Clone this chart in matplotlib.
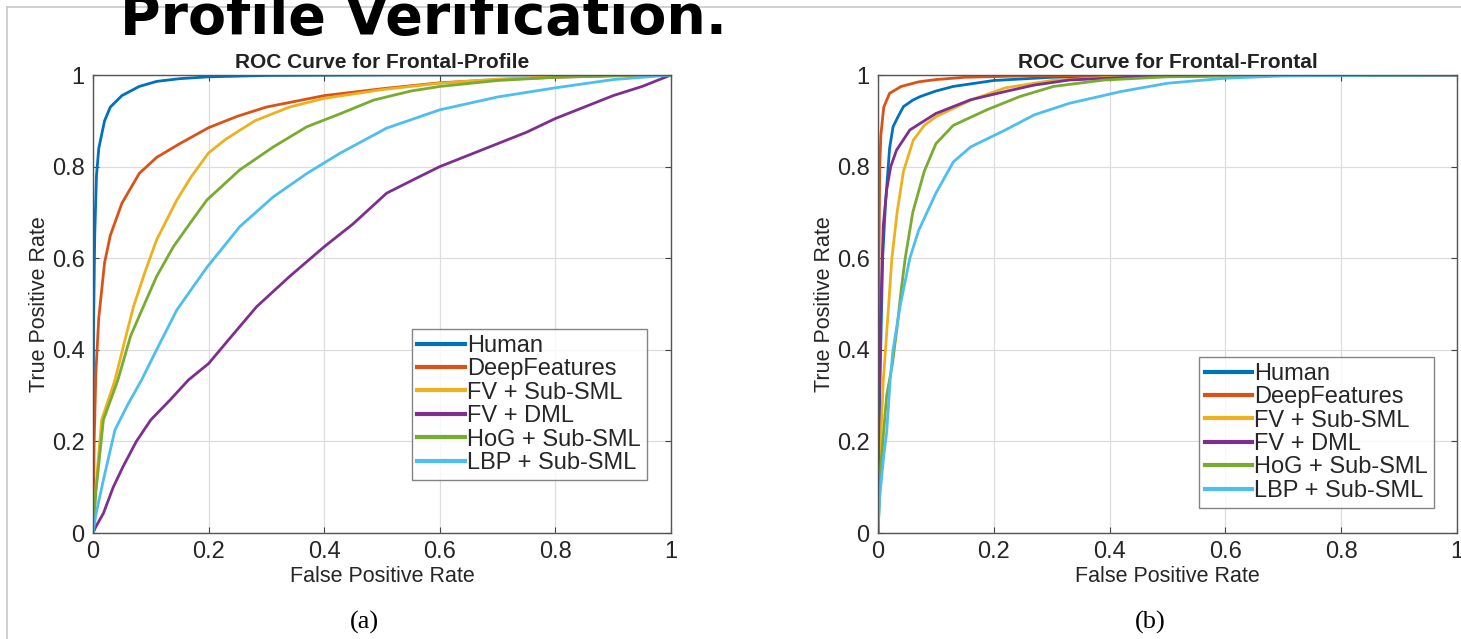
import matplotlib
matplotlib.use("Agg")
import matplotlib.pyplot as plt
from matplotlib.lines import Line2D

# ---- data ----
labels = ["Human", "DeepFeatures", "FV + Sub-SML", "FV + DML",
          "HoG + Sub-SML", "LBP + Sub-SML"]
colors = ["#0072BD", "#D95319", "#EDB120", "#7E2F8E", "#77AC30", "#4DBEEE"]

# (a) Frontal-Profile
fp_human_x = [0, 0.001, 0.003, 0.006, 0.01, 0.02, 0.03, 0.05, 0.08, 0.11, 0.15, 0.2, 0.3, 0.5, 1]
fp_human_y = [0, 0.45, 0.65, 0.78, 0.84, 0.9, 0.93, 0.955, 0.975, 0.986, 0.992, 0.996, 0.999, 1, 1]
fp_deep_x = [0, 0.002, 0.005, 0.01, 0.02, 0.03, 0.05, 0.08, 0.11, 0.15, 0.2, 0.25, 0.3, 0.4, 0.5, 0.6, 0.7, 0.8, 0.9, 1]
fp_deep_y = [0, 0.2, 0.35, 0.47, 0.59, 0.65, 0.72, 0.785, 0.82, 0.85, 0.885, 0.91, 0.93, 0.955, 0.97, 0.983, 0.99, 0.995, 0.998, 1]
fp_fvsub_x = [0, 0.005, 0.015, 0.038, 0.055, 0.07, 0.09, 0.11, 0.145, 0.17, 0.2, 0.23, 0.28, 0.34, 0.4, 0.5, 0.6, 0.7, 0.8, 0.9, 1]
fp_fvsub_y = [0, 0.1, 0.247, 0.334, 0.42, 0.494, 0.57, 0.64, 0.727, 0.778, 0.83, 0.86, 0.9, 0.93, 0.949, 0.968, 0.982, 0.991, 0.996, 0.999, 1]
fp_dml_x = [0, 0.005, 0.018, 0.035, 0.052, 0.075, 0.1, 0.133, 0.165, 0.2, 0.24, 0.283, 0.34, 0.4, 0.45, 0.508, 0.56, 0.6, 0.65, 0.7, 0.75, 0.8, 0.85, 0.9, 0.95, 1]
fp_dml_y = [0, 0.014, 0.043, 0.1, 0.145, 0.2, 0.247, 0.29, 0.334, 0.37, 0.43, 0.494, 0.56, 0.625, 0.675, 0.742, 0.775, 0.8, 0.825, 0.85, 0.875, 0.905, 0.93, 0.955, 0.975, 1]
fp_hog_x = [0, 0.005, 0.018, 0.043, 0.065, 0.087, 0.11, 0.139, 0.17, 0.197, 0.254, 0.312, 0.37, 0.427, 0.485, 0.55, 0.6, 0.7, 0.8, 0.9, 1]
fp_hog_y = [0, 0.09, 0.247, 0.334, 0.43, 0.494, 0.56, 0.625, 0.68, 0.727, 0.793, 0.843, 0.887, 0.915, 0.945, 0.965, 0.975, 0.988, 0.995, 0.999, 1]
fp_lbp_x = [0, 0.005, 0.018, 0.038, 0.06, 0.084, 0.11, 0.145, 0.197, 0.254, 0.312, 0.37, 0.427, 0.508, 0.6, 0.7, 0.8, 0.9, 1]
fp_lbp_y = [0, 0.04, 0.116, 0.225, 0.28, 0.334, 0.4, 0.487, 0.58, 0.669, 0.734, 0.785, 0.829, 0.884, 0.924, 0.952, 0.972, 0.99, 1]

# (b) Frontal-Frontal
ff_human_x = [0, 0.003, 0.008, 0.013, 0.02, 0.026, 0.035, 0.044, 0.06, 0.073, 0.1, 0.13, 0.2, 0.3, 0.5, 1]
ff_human_y = [0, 0.3, 0.6, 0.72, 0.84, 0.887, 0.91, 0.931, 0.945, 0.953, 0.965, 0.975, 0.988, 0.995, 0.999, 1]
ff_deep_x = [0, 0.001, 0.003, 0.005, 0.01, 0.02, 0.04, 0.07, 0.1, 0.15, 0.25, 0.5, 1]
ff_deep_y = [0, 0.5, 0.8, 0.87, 0.93, 0.96, 0.975, 0.985, 0.99, 0.995, 0.998, 1, 1]
ff_fvsub_x = [0, 0.003, 0.009, 0.018, 0.024, 0.033, 0.044, 0.061, 0.08, 0.1, 0.16, 0.22, 0.3, 0.4, 0.6, 1]
ff_fvsub_y = [0, 0.15, 0.33, 0.49, 0.6, 0.7, 0.79, 0.858, 0.89, 0.909, 0.945, 0.972, 0.988, 0.995, 0.999, 1]
ff_dml_x = [0, 0.001, 0.004, 0.009, 0.015, 0.022, 0.032, 0.055, 0.1, 0.16, 0.22, 0.27, 0.33, 0.45, 0.6, 1]
ff_dml_y = [0, 0.2, 0.45, 0.67, 0.75, 0.8, 0.836, 0.88, 0.916, 0.946, 0.964, 0.978, 0.989, 0.996, 0.999, 1]
ff_hog_x = [0, 0.005, 0.015, 0.025, 0.033, 0.04, 0.047, 0.06, 0.08, 0.1, 0.13, 0.188, 0.245, 0.303, 0.39, 0.5, 0.7, 1]
ff_hog_y = [0, 0.15, 0.3, 0.37, 0.45, 0.53, 0.6, 0.7, 0.79, 0.85, 0.89, 0.924, 0.953, 0.975, 0.989, 0.996, 0.999, 1]
ff_lbp_x = [0, 0.003, 0.01, 0.015, 0.021, 0.026, 0.038, 0.055, 0.07, 0.1, 0.13, 0.16, 0.22, 0.27, 0.33, 0.42, 0.5, 0.6, 0.7, 1]
ff_lbp_y = [0, 0.08, 0.17, 0.22, 0.334, 0.4, 0.494, 0.6, 0.66, 0.742, 0.81, 0.843, 0.88, 0.913, 0.938, 0.964, 0.982, 0.993, 0.998, 1]

panels = [
    ("ROC Curve for Frontal-Profile", "(a)",
     [(fp_human_x, fp_human_y), (fp_deep_x, fp_deep_y), (fp_fvsub_x, fp_fvsub_y),
      (fp_dml_x, fp_dml_y), (fp_hog_x, fp_hog_y), (fp_lbp_x, fp_lbp_y)]),
    ("ROC Curve for Frontal-Frontal", "(b)",
     [(ff_human_x, ff_human_y), (ff_deep_x, ff_deep_y), (ff_fvsub_x, ff_fvsub_y),
      (ff_dml_x, ff_dml_y), (ff_hog_x, ff_hog_y), (ff_lbp_x, ff_lbp_y)]),
]

ticks = [0, 0.2, 0.4, 0.6, 0.8, 1]
tick_labels = ["0", "0.2", "0.4", "0.6", "0.8", "1"]

W, H = 1461, 639
fig = plt.figure(figsize=(W / 100, H / 100), dpi=100)
plt.rcParams["font.family"] = ["Liberation Sans", "DejaVu Sans"]

ax_boxes = [(93, 671), (878, 1457)]
legend_anchor = [(0.958, 0.116), (0.960, 0.055)]
text_gray = "#262626"

for i, (title, cap, curves) in enumerate(panels):
    x0, x1 = ax_boxes[i]
    ax = fig.add_axes([x0 / W, (H - 533) / H, (x1 - x0) / W, 458 / H])
    for (xs, ys), c, lab in zip(curves, colors, labels):
        ax.plot(xs, ys, color=c, lw=2.0, label=lab)
    ax.set_xlim(0, 1)
    ax.set_ylim(0, 1)
    ax.set_xticks(ticks)
    ax.set_yticks(ticks)
    ax.set_xticklabels(tick_labels)
    ax.set_yticklabels(tick_labels)
    ax.tick_params(direction="in", length=4, width=0.8, top=True, right=True,
                   labelsize=17, colors="#444444", labelcolor=text_gray, pad=6)
    ax.grid(True, color="#dddddd", lw=0.9)
    ax.set_axisbelow(True)
    for s in ax.spines.values():
        s.set_color("#555555")
        s.set_linewidth(1.0)
    ax.set_title(title, fontsize=15, fontweight="bold", color="#222222", pad=5)
    ax.set_xlabel("False Positive Rate", fontsize=15.5, color=text_gray, labelpad=2)
    ax.set_ylabel("True Positive Rate", fontsize=15.5, color=text_gray, labelpad=1)
    leg = ax.legend(loc="lower right", bbox_to_anchor=legend_anchor[i],
                    borderaxespad=0, fontsize=17, frameon=True, fancybox=False,
                    handlelength=2.0, handletextpad=0.1, labelspacing=0.06,
                    borderpad=0.25, labelcolor=text_gray)
    leg.get_frame().set_edgecolor("#666666")
    leg.get_frame().set_linewidth(1.0)
    for h in leg.get_lines():
        h.set_linewidth(3)
    fig.text((x0 + x1) / 2 / W - 0.012, 1 - 622 / H, cap, ha="center", va="center",
             fontsize=19, family="Liberation Serif", color="black")

# slide frame and cut-off heading
fig.add_artist(Line2D([7 / W, 1], [1 - 7 / H, 1 - 7 / H], color="#c8c8c8", lw=1.2))
fig.add_artist(Line2D([7 / W, 7 / W], [0, 1 - 7 / H], color="#c8c8c8", lw=1.2))
fig.text(120 / W, 1 - 34 / H, "Profile Verification.", fontsize=40,
         fontweight="bold", family="DejaVu Sans", color="black",
         ha="left", va="baseline")

fig.savefig("out.png", dpi=100)
